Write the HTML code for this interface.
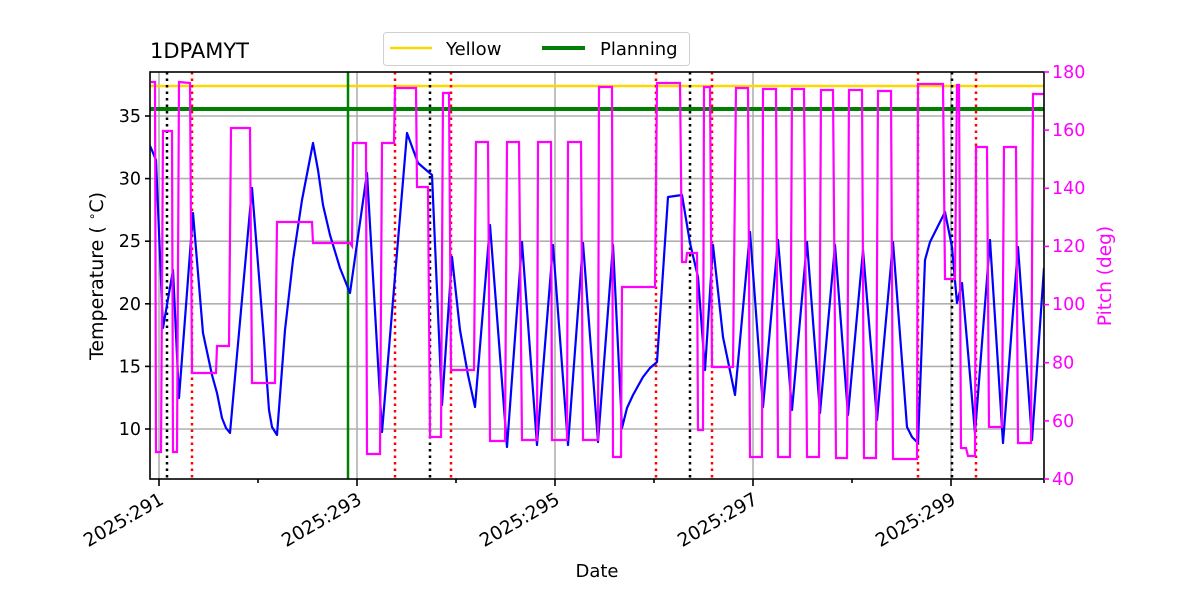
<!DOCTYPE html>
<html><head><meta charset="utf-8"><style>
body{margin:0;background:#fff}
svg{display:block;font-family:"DejaVu Sans","Liberation Sans",sans-serif}
</style></head><body>
<svg width="1200" height="600" viewBox="0 0 1200 600" xmlns="http://www.w3.org/2000/svg">
<rect width="1200" height="600" fill="#fff"/>
<defs><clipPath id="c"><rect x="150" y="72" width="894" height="407"/></clipPath></defs>
<g stroke="#b0b0b0" stroke-width="1.6">
<line x1="159" y1="72" x2="159" y2="479"/><line x1="357" y1="72" x2="357" y2="479"/><line x1="555" y1="72" x2="555" y2="479"/><line x1="753" y1="72" x2="753" y2="479"/><line x1="951" y1="72" x2="951" y2="479"/>
<line x1="150" y1="116" x2="1044" y2="116"/><line x1="150" y1="178.6" x2="1044" y2="178.6"/><line x1="150" y1="241.2" x2="1044" y2="241.2"/><line x1="150" y1="303.8" x2="1044" y2="303.8"/><line x1="150" y1="366.4" x2="1044" y2="366.4"/><line x1="150" y1="429" x2="1044" y2="429"/>
</g>
<g clip-path="url(#c)">
<line x1="150" y1="86" x2="1044" y2="86" stroke="#ffd700" stroke-width="2.5"/>
<line x1="150" y1="109" x2="1044" y2="109" stroke="#008000" stroke-width="4"/>
<line x1="348" y1="72" x2="348" y2="479" stroke="#008000" stroke-width="2.5"/>
<g stroke="#000" stroke-width="2.5" stroke-dasharray="2.5,4">
<line x1="167" y1="72" x2="167" y2="479"/><line x1="430" y1="72" x2="430" y2="479"/><line x1="690" y1="72" x2="690" y2="479"/><line x1="952" y1="72" x2="952" y2="479"/></g>
<g stroke="#ff0000" stroke-width="2.5" stroke-dasharray="2.5,4">
<line x1="192" y1="72" x2="192" y2="479"/><line x1="395" y1="72" x2="395" y2="479"/><line x1="451" y1="72" x2="451" y2="479"/><line x1="656" y1="72" x2="656" y2="479"/><line x1="712" y1="72" x2="712" y2="479"/><line x1="918" y1="72" x2="918" y2="479"/><line x1="976" y1="72" x2="976" y2="479"/></g>
<polyline fill="none" stroke="#0000ff" stroke-width="2.2" stroke-linejoin="round" points="150,146 151,148 156,160 163,328 173,270 179,398 193,213 203,333 212,375 217,393 222,418 226,428 230,433 252,188 263,327 269,410 272,427 277,435 285,330 293,260 302,200 313,143 318,170 323,205 330,235 340,268 350,293 367,173 382,432 407,133 418,163 432,175 442,405 452,257 460,330 468,375 475,407 490,225 507,447 522,242 537,445 553,245 568,445 583,243 598,442 613,245 622,428 627,408 633,395 643,377 650,368 657,362 668,197 682,195 690,243 698,277 705,370 713,245 723,337 735,395 750,232 763,407 778,240 792,410 807,242 820,413 835,245 848,415 863,250 877,420 893,242 907,427 912,437 918,443 925,260 930,242 937,228 945,212 952,247 957,303 962,283 975,433 990,240 1003,443 1018,247 1032,440 1044,268"/>
<polyline fill="none" stroke="#ff00ff" stroke-width="2.2" stroke-linejoin="miter" points="151,82 155,82 156,452 161,452 163,131 172,131 173,452 177,452 179,82 190,83 192,373 216,373 217,346 229,346 231,128 250,128 252,383 275,383 277,222 312,222 313,243 350,243 352,246 353,143 366,143 367,454 380,454 382,143 394,143 395,88 416,88 417,187 428,187 430,437 441,437 443,93 449,93 451,370 474,370 476,142 488,142 490,441 505,441 507,142 519,142 522,440 537,440 538,142 551,142 552,440 567,440 568,142 581,142 583,440 598,440 599,87 612,87 613,457 621,457 622,287 655,287 657,83 680,83 682,262 686,262 687,253 697,253 698,430 703,430 704,87 710,87 712,367 733,367 736,88 748,88 750,457 762,457 763,89 776,89 778,457 790,457 792,89 804,89 807,457 819,457 821,90 833,90 836,458 847,458 849,90 862,90 864,458 876,458 878,91 891,91 893,459 917,459 918,84 943,84 945,279 955,279 957,85 959,85 961,448 966,448 968,456 975,456 976,147 987,147 989,427 1002,427 1004,147 1016,147 1018,443 1031,443 1033,94 1044,94"/>
</g>
<rect x="150" y="72" width="894" height="407" fill="none" stroke="#000" stroke-width="1.6"/>
<g stroke="#000" stroke-width="1.6">
<line x1="150" y1="116" x2="145" y2="116"/><line x1="150" y1="178.6" x2="145" y2="178.6"/><line x1="150" y1="241.2" x2="145" y2="241.2"/><line x1="150" y1="303.8" x2="145" y2="303.8"/><line x1="150" y1="366.4" x2="145" y2="366.4"/><line x1="150" y1="429" x2="145" y2="429"/>
<line x1="159" y1="479" x2="159" y2="486"/><line x1="357" y1="479" x2="357" y2="486"/><line x1="555" y1="479" x2="555" y2="486"/><line x1="753" y1="479" x2="753" y2="486"/><line x1="951" y1="479" x2="951" y2="486"/>
<line x1="258" y1="479" x2="258" y2="483"/><line x1="456" y1="479" x2="456" y2="483"/><line x1="654" y1="479" x2="654" y2="483"/><line x1="852" y1="479" x2="852" y2="483"/><line x1="1044" y1="479" x2="1044" y2="483"/>
</g>
<g stroke="#ff00ff" stroke-width="1.6">
<line x1="1044" y1="72" x2="1049" y2="72"/><line x1="1044" y1="130.1" x2="1049" y2="130.1"/><line x1="1044" y1="188.3" x2="1049" y2="188.3"/><line x1="1044" y1="246.4" x2="1049" y2="246.4"/><line x1="1044" y1="304.6" x2="1049" y2="304.6"/><line x1="1044" y1="362.7" x2="1049" y2="362.7"/><line x1="1044" y1="420.9" x2="1049" y2="420.9"/><line x1="1044" y1="479" x2="1049" y2="479"/>
</g>
<g font-size="17.5" fill="#000" text-anchor="end">
<text x="141" y="122">35</text><text x="141" y="184.6">30</text><text x="141" y="247.2">25</text><text x="141" y="309.8">20</text><text x="141" y="372.4">15</text><text x="141" y="435">10</text>
</g>
<g font-size="17.5" fill="#ff00ff">
<text x="1052" y="78">180</text><text x="1052" y="136">160</text><text x="1052" y="194">140</text><text x="1052" y="252">120</text><text x="1052" y="310">100</text><text x="1052" y="368.5">80</text><text x="1052" y="427">60</text><text x="1052" y="485">40</text>
</g>
<g font-size="18.5" fill="#000" text-anchor="end">
<text transform="translate(165,503) rotate(-30)">2025:291</text>
<text transform="translate(363,503) rotate(-30)">2025:293</text>
<text transform="translate(561,503) rotate(-30)">2025:295</text>
<text transform="translate(759,503) rotate(-30)">2025:297</text>
<text transform="translate(957,503) rotate(-30)">2025:299</text>
</g>
<text x="597" y="577" font-size="18" text-anchor="middle">Date</text>
<text transform="translate(103,276) rotate(-90)" font-size="19" text-anchor="middle">Temperature ( <tspan font-size="12" dy="-7">∘</tspan><tspan dy="7">C)</tspan></text>
<text transform="translate(1111,276) rotate(-90)" font-size="18.5" fill="#ff00ff" text-anchor="middle">Pitch (deg)</text>
<text x="150" y="58" font-size="21">1DPAMYT</text>
<rect x="383.5" y="32.5" width="306" height="33" rx="3" fill="#fff" stroke="#d0d0d0"/>
<line x1="390" y1="48" x2="432" y2="48" stroke="#ffd700" stroke-width="2.5"/>
<text x="446" y="55" font-size="18">Yellow</text>
<line x1="542" y1="48" x2="585" y2="48" stroke="#008000" stroke-width="4"/>
<text x="600" y="55" font-size="18">Planning</text>
</svg>
</body></html>
